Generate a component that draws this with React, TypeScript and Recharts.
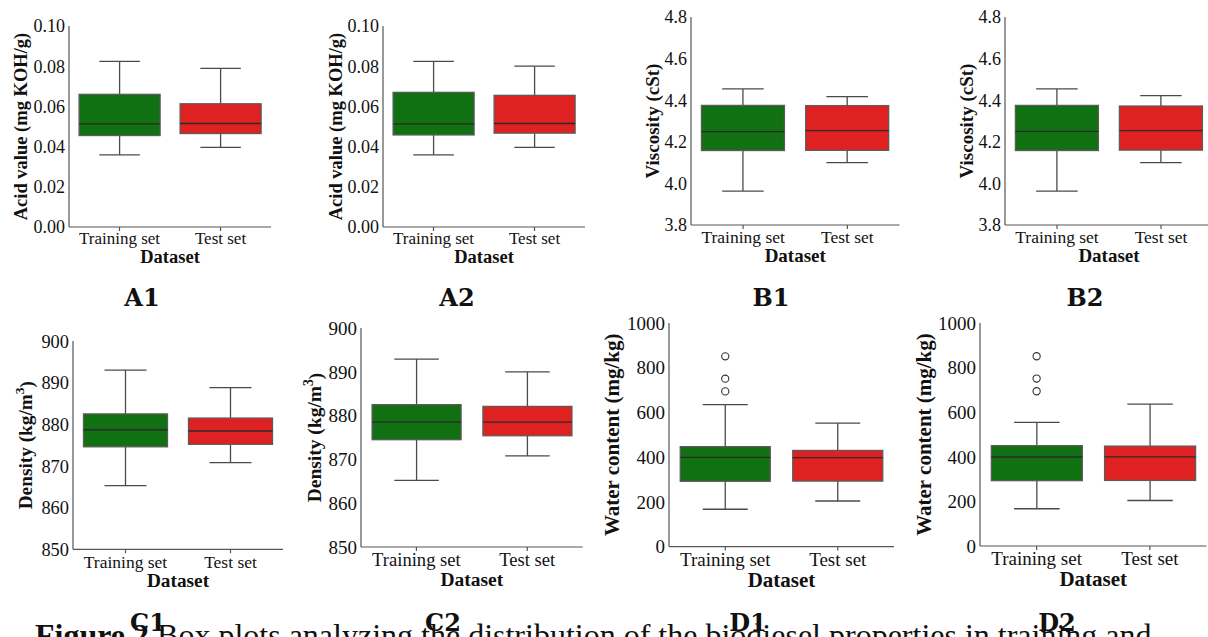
import { Bar, Cell, ComposedChart, Scatter, XAxis, YAxis } from "recharts";

// Box plots of biodiesel properties, training set vs test set (A1..D2).
const CATEGORIES = ["Training set", "Test set"];

// [lower whisker, Q1, median, Q3, upper whisker]
const A1_TRAINING = [0.0359, 0.0455, 0.0513, 0.066, 0.0824];
const A1_TEST = [0.0396, 0.0465, 0.0515, 0.0613, 0.0789];
const A2_TRAINING = [0.0359, 0.0458, 0.0513, 0.067, 0.0824];
const A2_TEST = [0.0396, 0.0467, 0.0515, 0.0655, 0.08];
const B1_TRAINING = [3.963, 4.158, 4.249, 4.375, 4.454];
const B1_TEST = [4.1, 4.159, 4.254, 4.374, 4.417];
const B2_TRAINING = [3.963, 4.158, 4.25, 4.375, 4.454];
const B2_TEST = [4.1, 4.16, 4.254, 4.372, 4.422];
const C1_TRAINING = [865.3, 874.6, 878.7, 882.5, 893.0];
const C1_TEST = [870.8, 875.2, 878.4, 881.5, 888.8];
const C2_TRAINING = [865.2, 874.5, 878.5, 882.5, 892.9];
const C2_TEST = [870.8, 875.4, 878.5, 882.1, 890.0];
const D1_TRAINING = [167, 292, 399, 447, 635];
const D1_TEST = [204, 293, 398, 430, 552];
const D2_TRAINING = [167, 293, 399, 450, 554];
const D2_TEST = [204, 294, 400, 448, 636];
// water content outliers of the training set (both D panels)
const D_TRAINING_OUTLIERS = [851, 751, 694];

const A_TICKS = [0, 0.02, 0.04, 0.06, 0.08, 0.1];
const B_TICKS = [3.8, 4.0, 4.2, 4.4, 4.6, 4.8];
const C_TICKS = [850, 860, 870, 880, 890, 900];
const D_TICKS = [0, 200, 400, 600, 800, 1000];

const CAPTION_HEAD = "Figure 2";
const CAPTION_TEXT = "Box plots analyzing the distribution of the biodiesel properties in training and";

const BOX_COLORS = ["#117011", "#df2121"];
const SPINE = "#555";
const WHISKER = "#4a4a4a";
const EDGE = "#5c5c5c";
const MEDIAN = "#2b2b2b";
const FONT = "'Liberation Serif', 'Times New Roman', serif";
const Y_AXIS_W = 75;
const X_AXIS_H = 50;

function rows(training: number[], test: number[]) {
  return [training, test].map((s, i) => ({
    cat: CATEGORIES[i],
    low: s[0],
    q1: s[1],
    median: s[2],
    q3: s[3],
    high: s[4],
  }));
}

const PANELS = [
  { name: "A1", data: rows(A1_TRAINING, A1_TEST), outliers: [] as number[], ticks: A_TICKS, digits: 2, title: "Acid value (mg KOH/g)" },
  { name: "A2", data: rows(A2_TRAINING, A2_TEST), outliers: [] as number[], ticks: A_TICKS, digits: 2, title: "Acid value (mg KOH/g)" },
  { name: "B1", data: rows(B1_TRAINING, B1_TEST), outliers: [] as number[], ticks: B_TICKS, digits: 1, title: "Viscosity (cSt)" },
  { name: "B2", data: rows(B2_TRAINING, B2_TEST), outliers: [] as number[], ticks: B_TICKS, digits: 1, title: "Viscosity (cSt)" },
  { name: "C1", data: rows(C1_TRAINING, C1_TEST), outliers: [] as number[], ticks: C_TICKS, digits: 0, title: "Density (kg/m", sup: "3" },
  { name: "C2", data: rows(C2_TRAINING, C2_TEST), outliers: [] as number[], ticks: C_TICKS, digits: 0, title: "Density (kg/m", sup: "3" },
  { name: "D1", data: rows(D1_TRAINING, D1_TEST), outliers: D_TRAINING_OUTLIERS, ticks: D_TICKS, digits: 0, title: "Water content (mg/kg)" },
  { name: "D2", data: rows(D2_TRAINING, D2_TEST), outliers: D_TRAINING_OUTLIERS, ticks: D_TICKS, digits: 0, title: "Water content (mg/kg)" },
];

// plot rectangle, font sizes and label offsets of each panel
const LAYOUT: Record<string, any> = {
  A1: { x: 69, y: 26, w: 202, h: 201, yTick: 18, xTick: 17, title: 18.5, yOff: 48, xOff: 36, xMargin: 1, lx: 142, ly: 307 },
  A2: { x: 383, y: 26, w: 202, h: 201, yTick: 18, xTick: 17, title: 18.5, yOff: 47, xOff: 36, xMargin: 1, lx: 457, ly: 307 },
  B1: { x: 691, y: 16.7, w: 208.5, h: 208, yTick: 18, xTick: 17.5, title: 19, yOff: 39, xOff: 37, xMargin: 2, lx: 771, ly: 307 },
  B2: { x: 1005, y: 16.7, w: 208, h: 208, yTick: 18, xTick: 17.5, title: 19, yOff: 39, xOff: 37, xMargin: 2, lx: 1085, ly: 307 },
  C1: { x: 72.7, y: 340.7, w: 210, h: 208.3, yTick: 18.4, xTick: 17.5, title: 19.3, yOff: 47, xOff: 38, xMargin: 2, lx: 148, ly: 632 },
  C2: { x: 361, y: 328.3, w: 221.7, h: 219, yTick: 19, xTick: 18.6, title: 19.5, yOff: 46, xOff: 39, xMargin: 2, lx: 443, ly: 632 },
  D1: { x: 669.3, y: 322.7, w: 225, h: 223.6, yTick: 19, xTick: 19, title: 21, yOff: 57, xOff: 40, xMargin: 2, lx: 748, ly: 632 },
  D2: { x: 979.5, y: 323.3, w: 226.5, h: 223, yTick: 19, xTick: 19, title: 21, yOff: 56, xOff: 40, xMargin: 2, lx: 1057, ly: 632 },
};

function BoxShape(props: any) {
  const { x, y, width, height, fill } = props;
  const entry = props.payload ?? props;
  const { low, q1, median, q3, high } = entry;
  const top = Math.min(y, y + height);
  const bottom = Math.max(y, y + height);
  const py = (v: number) => top + ((high - v) / (high - low)) * (bottom - top);
  const cx = x + width / 2;
  const cap = width / 4;
  return (
    <g>
      <line x1={cx} x2={cx} y1={py(high)} y2={py(q3)} stroke={WHISKER} strokeWidth={1.3} />
      <line x1={cx} x2={cx} y1={py(q1)} y2={py(low)} stroke={WHISKER} strokeWidth={1.3} />
      <line x1={cx - cap} x2={cx + cap} y1={py(high)} y2={py(high)} stroke={WHISKER} strokeWidth={1.3} />
      <line x1={cx - cap} x2={cx + cap} y1={py(low)} y2={py(low)} stroke={WHISKER} strokeWidth={1.3} />
      <rect x={x} y={py(q3)} width={width} height={py(q1) - py(q3)} fill={fill} stroke={EDGE} strokeWidth={1.3} />
      <line x1={x} x2={x + width} y1={py(median)} y2={py(median)} stroke={MEDIAN} strokeWidth={1.3} />
    </g>
  );
}

function Outlier(props: any) {
  const { cx, cy } = props;
  return <circle cx={cx} cy={cy} r={3.6} fill="#fff" stroke="#333" strokeWidth={1.1} />;
}

function BoxPanel({ panel }: { panel: (typeof PANELS)[number] }) {
  const lay = LAYOUT[panel.name];
  const domain = [panel.ticks[0], panel.ticks[panel.ticks.length - 1]];
  const outlierRows = panel.outliers.map((v) => ({ cat: CATEGORIES[0], v }));
  const tickStyle = { fill: "#111", fontSize: lay.yTick, fontFamily: FONT };

  return (
    <div style={{ position: "absolute", left: lay.x - Y_AXIS_W, top: lay.y - 10, fontFamily: FONT }}>
      <ComposedChart
        width={Y_AXIS_W + lay.w + 2}
        height={10 + lay.h + X_AXIS_H}
        data={panel.data}
        margin={{ top: 10, right: 2, bottom: 0, left: 0 }}
        barCategoryGap="10%"
      >
        <XAxis
          xAxisId="b"
          dataKey="cat"
          allowDuplicatedCategory={false}
          height={X_AXIS_H}
          stroke={SPINE}
          strokeWidth={1.2}
          tickSize={4}
          tickMargin={lay.xMargin}
          tick={{ fill: "#111", fontSize: lay.xTick, fontFamily: FONT }}
          label={{
            content: (p: any) => (
              <text
                x={p.viewBox.x + p.viewBox.width / 2}
                y={p.viewBox.y + lay.xOff}
                textAnchor="middle"
                fontFamily={FONT}
                fontWeight="bold"
                fontSize={lay.title}
                fill="#111"
              >
                Dataset
              </text>
            ),
          }}
        />
        <XAxis
          xAxisId="t"
          orientation="top"
          dataKey="cat"
          allowDuplicatedCategory={false}
          height={0}
          tick={false}
          tickLine={false}
          stroke={SPINE}
          strokeWidth={1.2}
        />
        <YAxis
          yAxisId="l"
          width={Y_AXIS_W}
          type="number"
          domain={domain}
          ticks={panel.ticks}
          interval={0}
          allowDataOverflow
          tickLine={false}
          tickSize={4}
          tickMargin={0}
          stroke={SPINE}
          strokeWidth={1.2}
          tick={tickStyle}
          tickFormatter={(v: number) => v.toFixed(panel.digits)}
          label={{
            content: (p: any) => {
              const cx = p.viewBox.x + p.viewBox.width - lay.yOff;
              const cy = p.viewBox.y + p.viewBox.height / 2;
              return (
                <text
                  x={cx}
                  y={cy}
                  transform={`rotate(-90 ${cx} ${cy})`}
                  textAnchor="middle"
                  dominantBaseline="central"
                  fontFamily={FONT}
                  fontWeight="bold"
                  fontSize={lay.title}
                  fill="#111"
                >
                  {panel.title}
                  {panel.sup ? (
                    <>
                      <tspan dy={-7} fontSize={lay.title * 0.7}>
                        {panel.sup}
                      </tspan>
                      <tspan dy={7}>)</tspan>
                    </>
                  ) : null}
                </text>
              );
            },
          }}
        />
        <YAxis
          yAxisId="r"
          orientation="right"
          width={0}
          type="number"
          domain={domain}
          tick={false}
          tickLine={false}
          stroke={SPINE}
          strokeWidth={1.2}
        />
        <Bar
          xAxisId="b"
          yAxisId="l"
          dataKey={(d: any) => [d.low, d.high]}
          shape={<BoxShape />}
          isAnimationActive={false}
        >
          {panel.data.map((d, i) => (
            <Cell key={d.cat} fill={BOX_COLORS[i]} />
          ))}
        </Bar>
        {outlierRows.length > 0 && (
          <Scatter
            xAxisId="b"
            yAxisId="l"
            data={outlierRows}
            dataKey="v"
            shape={<Outlier />}
            isAnimationActive={false}
          />
        )}
      </ComposedChart>
    </div>
  );
}

export default function App() {
  return (
    <div
      style={{
        position: "absolute",
        left: 0,
        top: 0,
        width: 1208,
        height: 637,
        overflow: "hidden",
        background: "#fff",
        fontFamily: FONT,
      }}
    >
      <div
        style={{
          position: "absolute",
          left: 35,
          top: 617,
          whiteSpace: "nowrap",
          fontFamily: FONT,
          fontSize: 32,
          lineHeight: "36px",
          color: "#111",
        }}
      >
        <b>{CAPTION_HEAD}</b> {CAPTION_TEXT}
      </div>
      {PANELS.map((p) => (
        <BoxPanel key={p.name} panel={p} />
      ))}
      {PANELS.map((p) => (
        <div
          key={p.name + "-label"}
          style={{
            position: "absolute",
            left: LAYOUT[p.name].lx - 40,
            top: LAYOUT[p.name].ly - 23,
            width: 80,
            textAlign: "center",
            fontFamily: "'DejaVu Serif', serif",
            fontWeight: "bold",
            fontSize: 24,
            lineHeight: "28px",
            color: "#111",
            background: "transparent",
          }}
        >
          {p.name}
        </div>
      ))}
    </div>
  );
}
